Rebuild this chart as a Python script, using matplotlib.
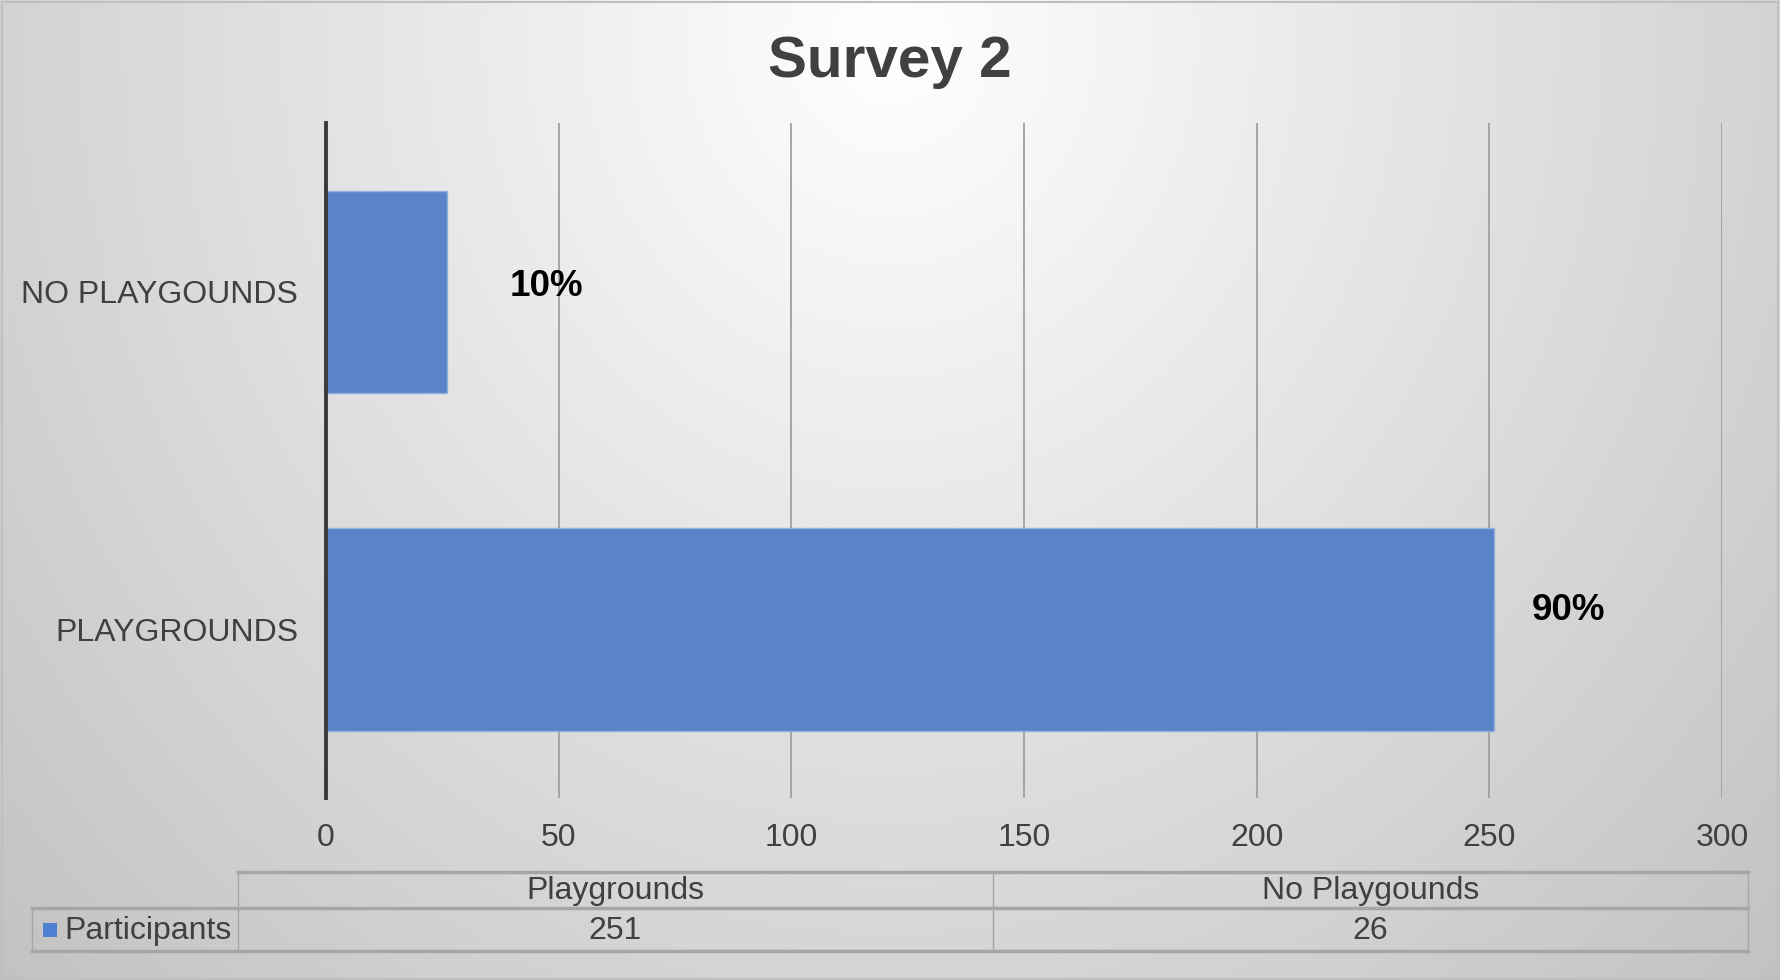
import numpy as np
import matplotlib
matplotlib.use("Agg")
import matplotlib.pyplot as plt
from matplotlib.lines import Line2D
from matplotlib.patches import Rectangle

plt.rcParams['font.family'] = ['Liberation Sans', 'DejaVu Sans']

# data
categories = ["PLAYGROUNDS", "NO PLAYGOUNDS"]
table_headers = ["Playgrounds", "No Playgounds"]
participants = [251, 26]
pct_labels = ["90%", "10%"]
series_name = "Participants"
x_ticks = [0, 50, 100, 150, 200, 250, 300]

W, H = 1780, 980
fig = plt.figure(figsize=(W / 100, H / 100), dpi=100)

def fx(px):
    return px / W

def fy(py):
    return 1 - py / H

# background radial gradient
bg = fig.add_axes([0, 0, 1, 1], zorder=-10)
yy, xx = np.mgrid[0:H, 0:W]
r = np.sqrt(((xx - 890) / 890.0) ** 2 + ((yy - 40) / 980.0) ** 2)
v = np.clip(255 - 44 * r, 0, 255) / 255.0
bg.imshow(np.dstack([v, v, v]), aspect='auto', extent=[0, 1, 0, 1])
bg.set_axis_off()
bg.add_patch(Rectangle((0.001, 0.001), 0.998, 0.997, fill=False,
                       edgecolor='#bfbfbf', linewidth=1.5, transform=bg.transAxes))

ax = fig.add_axes([fx(326), fy(798), fx(1722) - fx(326), fy(123) - fy(798)])
ax.patch.set_alpha(0)

y = np.arange(len(categories))
bars = ax.barh(y, participants, height=0.6, color='#5a83c8',
               edgecolor='#8fb0e0', linewidth=1, zorder=2)
ax.set_xlim(0, 300)
ax.set_ylim(-0.5, 1.5)
ax.set_xticks(x_ticks)
ax.set_yticks(y)
ax.set_yticklabels(categories)
ax.tick_params(axis='both', length=0, labelsize=23, colors='#404040')
ax.tick_params(axis='y', pad=20)
ax.tick_params(axis='x', pad=18)
ax.grid(axis='x', color='#a0a0a0', linewidth=1.3, zorder=1)
ax.set_axisbelow(True)
for s in ['top', 'right', 'bottom']:
    ax.spines[s].set_visible(False)
ax.spines['left'].set_color('#3a3a3a')
ax.spines['left'].set_linewidth(2.8)
ax.spines['left'].set_zorder(3)

# data labels (offsets in points), same order as bars
offsets = [(27, 13.5), (45, 3.5)]
for b, lab, off in zip(bars, pct_labels, offsets):
    ax.annotate(lab, (b.get_width(), b.get_y() + b.get_height() / 2),
                xytext=off, textcoords='offset points', ha='left', va='center',
                fontsize=26.5, fontweight='bold', color='black')

fig.text(fx(890), fy(62), "Survey 2", ha='center', va='center',
         fontsize=42, fontweight='bold', color='#404040')

# data table below the axis
tl = '#a6a6a6'
col_x = [238, 993, 1748]
row_y = [872, 908, 951]
for yv in row_y:
    x0 = 238 if yv == 872 else 32
    fig.add_artist(Line2D([fx(x0), fx(1748)], [fy(yv), fy(yv)], color=tl, linewidth=2.5))
for xv in col_x:
    fig.add_artist(Line2D([fx(xv), fx(xv)], [fy(872), fy(951)], color=tl, linewidth=1))
fig.add_artist(Line2D([fx(32), fx(32)], [fy(908), fy(951)], color=tl, linewidth=1))

for i, (hdr, val) in enumerate(zip(table_headers, participants)):
    cx = (col_x[i] + col_x[i + 1]) / 2
    fig.text(fx(cx), fy(891), hdr, ha='center', va='center', fontsize=23, color='#404040')
    fig.text(fx(cx), fy(931), str(val), ha='center', va='center', fontsize=23, color='#404040')

fig.add_artist(Rectangle((fx(43), fy(937)), fx(14), fy(923) - fy(937),
                         facecolor='#4f7fd0', edgecolor='none'))
fig.text(fx(64), fy(931), series_name, ha='left', va='center', fontsize=23, color='#404040')

fig.savefig("out.png", dpi=100)
